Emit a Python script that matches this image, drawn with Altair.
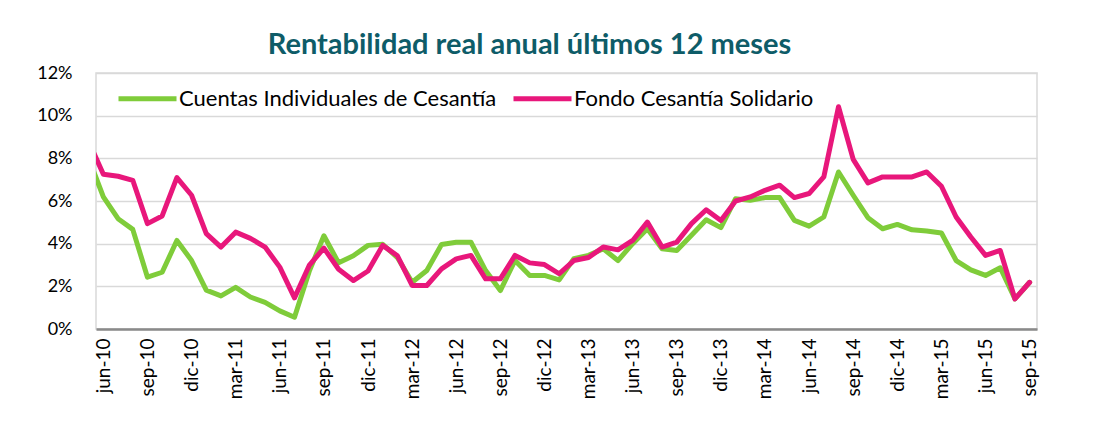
import altair as alt
import pandas as pd

# month labels (index 0 = jun-10 ... 63 = sep-15); index -1 is may-10 (clipped at the left edge)
months = ["jun-10","jul-10","ago-10","sep-10","oct-10","nov-10","dic-10",
          "ene-11","feb-11","mar-11","abr-11","may-11","jun-11","jul-11","ago-11","sep-11","oct-11","nov-11","dic-11",
          "ene-12","feb-12","mar-12","abr-12","may-12","jun-12","jul-12","ago-12","sep-12","oct-12","nov-12","dic-12",
          "ene-13","feb-13","mar-13","abr-13","may-13","jun-13","jul-13","ago-13","sep-13","oct-13","nov-13","dic-13",
          "ene-14","feb-14","mar-14","abr-14","may-14","jun-14","jul-14","ago-14","sep-14","oct-14","nov-14","dic-14",
          "ene-15","feb-15","mar-15","abr-15","may-15","jun-15","jul-15","ago-15","sep-15"]

series_names = ["Cuentas Individuales de Cesantía", "Fondo Cesantía Solidario"]

cuentas_prev = 8.0   # may-10 (mostly outside the plot)
cuentas = [6.19, 5.17, 4.67, 2.43, 2.66, 4.15, 3.21, 1.82, 1.55, 1.95, 1.5, 1.25, 0.85, 0.55, 2.7, 4.37,
           3.1, 3.43, 3.92, 3.97, 3.35, 2.19, 2.74, 3.96, 4.07, 4.07, 2.74, 1.8, 3.21, 2.51, 2.51, 2.3,
           3.3, 3.45, 3.76, 3.21, 4.0, 4.7, 3.76, 3.68, 4.39, 5.12, 4.75, 6.11, 6.03, 6.16, 6.16, 5.09,
           4.82, 5.25, 7.36, 6.27, 5.22, 4.7, 4.9, 4.65, 4.59, 4.5, 3.21, 2.77, 2.51, 2.87, 1.41, 2.19]

fondo_prev = 8.8     # may-10 (mostly outside the plot)
fondo = [7.25, 7.16, 6.97, 4.94, 5.3, 7.1, 6.27, 4.47, 3.84, 4.54, 4.25, 3.84, 2.9, 1.46, 2.98, 3.79,
         2.8, 2.27, 2.72, 3.92, 3.43, 2.04, 2.04, 2.82, 3.29, 3.45, 2.35, 2.35, 3.45, 3.1, 3.02, 2.59,
         3.21, 3.35, 3.84, 3.71, 4.15, 5.01, 3.84, 4.07, 4.94, 5.59, 5.09, 6.0, 6.19, 6.5, 6.74, 6.16,
         6.35, 7.13, 10.42, 7.95, 6.85, 7.13, 7.13, 7.13, 7.36, 6.69, 5.25, 4.31, 3.45, 3.68, 1.41, 2.19]

y_ticks = [0, 2, 4, 6, 8, 10, 12]
colors = ["#7FCC3A", "#E8177B"]

rows = []
for name, prev, vals in [(series_names[0], cuentas_prev, cuentas), (series_names[1], fondo_prev, fondo)]:
    rows.append({"serie": name, "idx": -1, "valor": prev})
    for i, v in enumerate(vals):
        rows.append({"serie": name, "idx": i, "valor": v})
df = pd.DataFrame(rows)

label_js = "[" + ",".join("'" + m + "'" for m in months) + "]"

chart = alt.Chart(df).mark_line(
    clip=True, strokeWidth=5, strokeCap="round", strokeJoin="round"
).encode(
    x=alt.X("idx:Q",
            scale=alt.Scale(domain=[-0.5, len(months) - 0.5], nice=False, zero=False),
            axis=alt.Axis(values=list(range(0, len(months), 3)),
                          labelExpr=label_js + "[datum.value]",
                          labelAngle=270, labelFontSize=19, labelColor="#000000",
                          labelFont="Lato", labelPadding=9, ticks=False,
                          domainColor="#8A8A8A", domainWidth=2.5, grid=False, title=None)),
    y=alt.Y("valor:Q",
            scale=alt.Scale(domain=[0, 12], nice=False),
            axis=alt.Axis(values=y_ticks, labelExpr="datum.value + '%'",
                          labelFontSize=18, labelColor="#000000", labelFont="Lato",
                          labelPadding=24, ticks=False, domain=False,
                          grid=True, gridColor="#D9D9D9", gridWidth=1.5, title=None)),
    color=alt.Color("serie:N",
                    scale=alt.Scale(domain=series_names, range=colors),
                    legend=alt.Legend(orient="none", direction="horizontal", title=None,
                                      legendX=20, legendY=-6, symbolType="stroke",
                                      symbolSize=3364, symbolStrokeWidth=5,
                                      labelFontSize=22, labelFont="Lato", labelColor="#000000",
                                      labelOffset=0, columnPadding=6, padding=0,
                                      labelLimit=500)),
    order=alt.Order("serie:N")
).properties(
    width=941, height=256,
    title=alt.TitleParams("Rentabilidad real anual últimos 12 meses", fontSize=29,
                          font="Lato", fontWeight="bold", color="#0E5C68",
                          anchor="middle", dx=-37, offset=4),
    autosize=alt.AutoSizeParams(type="none"),
    padding={"left": 96, "top": 73, "right": 62, "bottom": 99}
).configure_view(stroke="#D9D9D9", strokeWidth=1.5)

chart.save("out.html", embed_options={"renderer": "svg", "actions": False})
